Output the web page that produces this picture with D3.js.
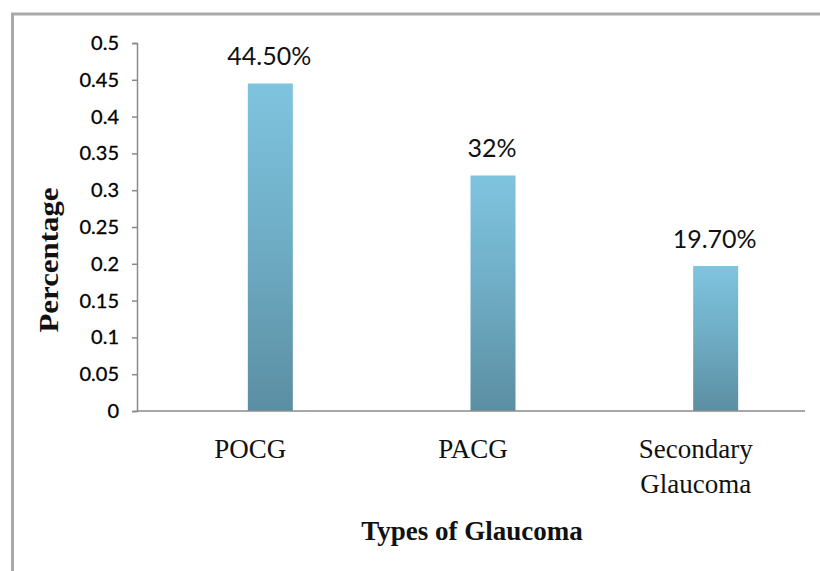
<!DOCTYPE html>
<html>
<head>
<meta charset="utf-8">
<script src="https://cdn.jsdelivr.net/npm/d3@7"></script>
<style>
  html, body { margin: 0; padding: 0; background: #fff; }
  svg { display: block; }
</style>
</head>
<body>
<svg id="chart" width="820" height="571"></svg>
<script>
// Share of glaucoma types
const categories = ["POCG", "PACG", "Secondary Glaucoma"];
const values = [0.445, 0.32, 0.197];
const valueLabels = ["44.50%", "32%", "19.70%"];
const yTicks = [0, 0.05, 0.1, 0.15, 0.2, 0.25, 0.3, 0.35, 0.4, 0.45, 0.5];
const yTickLabels = ["0", "0.05", "0.1", "0.15", "0.2", "0.25", "0.3", "0.35", "0.4", "0.45", "0.5"];

const svg = d3.select("#chart");

// frame around the chart area
svg.append("rect")
  .attr("x", 12.5).attr("y", 14)
  .attr("width", 830).attr("height", 600)
  .attr("fill", "none")
  .attr("stroke", "#a9a9a9")
  .attr("stroke-width", 3);

const margin = { left: 137, right: 805, top: 43, bottom: 411 };

const x = d3.scaleBand()
  .domain(categories)
  .range([margin.left, margin.right])
  .padding(0);

const y = d3.scaleLinear()
  .domain([0, 0.5])
  .range([margin.bottom, margin.top]);

const barWidth = 45;
const barShift = 22;

// vertical gradient for the bars
const defs = svg.append("defs");
const grad = defs.append("linearGradient")
  .attr("id", "barGrad")
  .attr("x1", 0).attr("y1", 0).attr("x2", 0).attr("y2", 1);
grad.append("stop").attr("offset", "0%").attr("stop-color", "#7fc4df");
grad.append("stop").attr("offset", "50%").attr("stop-color", "#6eacc4");
grad.append("stop").attr("offset", "100%").attr("stop-color", "#5b8ea2");

// bars
svg.append("g")
  .selectAll("rect")
  .data(categories)
  .join("rect")
  .attr("x", (d) => x(d) + x.bandwidth() / 2 + barShift - barWidth / 2)
  .attr("y", (d, i) => y(values[i]))
  .attr("width", barWidth)
  .attr("height", (d, i) => y(0) - y(values[i]))
  .attr("fill", "url(#barGrad)");

// value labels above bars
svg.append("g")
  .selectAll("text")
  .data(categories)
  .join("text")
  .attr("x", (d) => x(d) + x.bandwidth() / 2 + barShift - 1)
  .attr("y", (d, i) => y(values[i]) - 18)
  .attr("text-anchor", "middle")
  .attr("font-family", "Lato, 'Open Sans', sans-serif")
  .attr("font-size", 25)
  .attr("fill", "#111")
  .text((d, i) => valueLabels[i]);

// y axis
const yAxis = d3.axisLeft(y)
  .tickValues(yTicks)
  .tickFormat((d, i) => yTickLabels[i])
  .tickSize(5)
  .tickSizeOuter(5)
  .tickPadding(13);

const gy = svg.append("g")
  .attr("transform", `translate(${margin.left},0)`)
  .call(yAxis);
gy.select(".domain").attr("stroke", "#8a8a8a").attr("stroke-width", 1.5);
gy.selectAll(".tick line").attr("stroke", "#8a8a8a").attr("stroke-width", 1.5);
gy.selectAll(".tick text")
  .attr("font-family", "Lato, 'Open Sans', sans-serif")
  .attr("font-size", 20)
  .attr("fill", "#000")
  .attr("stroke", "#000")
  .attr("stroke-width", 0.3);

// x axis baseline
svg.append("line")
  .attr("x1", margin.left).attr("x2", margin.right)
  .attr("y1", y(0)).attr("y2", y(0))
  .attr("stroke", "#8a8a8a")
  .attr("stroke-width", 1.5);

// category labels (wrapped on spaces for the long name)
const catG = svg.append("g");
categories.forEach((c) => {
  const lines = c === "Secondary Glaucoma" ? c.split(" ") : [c];
  const cx = x(c) + x.bandwidth() / 2 + 2;
  const t = catG.append("text")
    .attr("x", cx)
    .attr("y", 458)
    .attr("text-anchor", "middle")
    .attr("font-family", "'Liberation Serif', 'Times New Roman', serif")
    .attr("font-size", 27)
    .attr("fill", "#111");
  lines.forEach((ln, i) => {
    t.append("tspan")
      .attr("x", cx)
      .attr("dy", i === 0 ? 0 : 35)
      .text(ln);
  });
});

// axis titles
svg.append("text")
  .attr("x", 472)
  .attr("y", 540)
  .attr("text-anchor", "middle")
  .attr("font-family", "'Liberation Serif', 'Times New Roman', serif")
  .attr("font-weight", "bold")
  .attr("font-size", 27)
  .attr("fill", "#111")
  .text("Types of Glaucoma");

svg.append("text")
  .attr("transform", "translate(58,260) rotate(-90)")
  .attr("text-anchor", "middle")
  .attr("font-family", "'Liberation Serif', 'Times New Roman', serif")
  .attr("font-weight", "bold")
  .attr("font-size", 27)
  .attr("textLength", 145)
  .attr("lengthAdjust", "spacingAndGlyphs")
  .attr("fill", "#111")
  .text("Percentage");
</script>
</body>
</html>
